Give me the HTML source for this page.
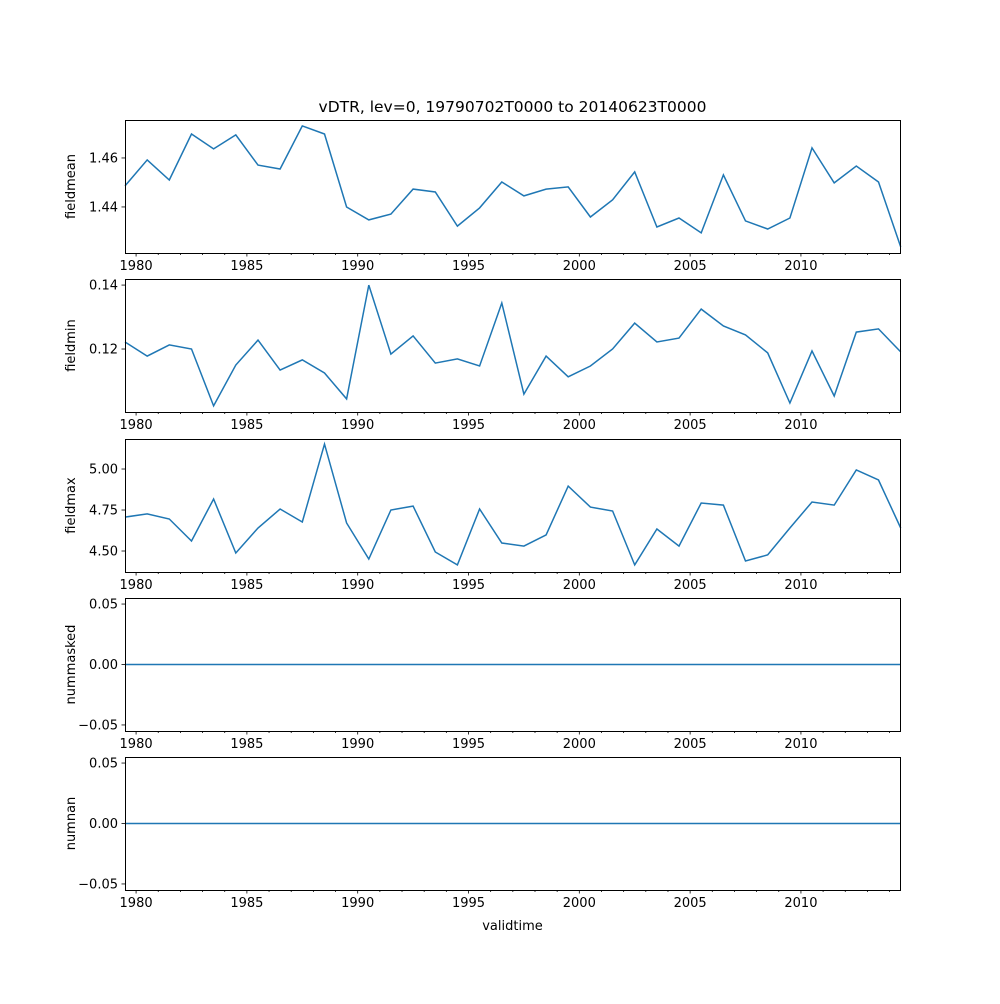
<!DOCTYPE html>
<html><head><meta charset="utf-8"><style>
body{margin:0;background:#fff;font-family:"DejaVu Sans","Liberation Sans",sans-serif}
svg text{font-family:"DejaVu Sans","Liberation Sans",sans-serif;font-size:13px;fill:#000}
</style></head><body>
<svg id="chart" width="1000" height="1000"></svg>
<script>
const years=[];for(let i=0;i<36;i++)years.push(1979.5+i);
const fieldmean=[1.4486,1.4592,1.4510,1.4698,1.4637,1.4694,1.4571,1.4555,1.4731,1.4698,1.4400,1.4347,1.4371,1.4473,1.4461,1.4322,1.4396,1.4502,1.4445,1.4473,1.4482,1.4359,1.4429,1.4543,1.4318,1.4355,1.4294,1.4531,1.4343,1.4310,1.4355,1.4641,1.4498,1.4567,1.4502,1.4237];
const fieldmin=[.1222,.1178,.1213,.12,.1022,.115,.1228,.1134,.1166,.1125,.1044,.14,.1184,.1241,.1156,.1169,.1147,.1344,.1059,.1178,.1113,.1147,.12,.1281,.1222,.1234,.1325,.1272,.1244,.1188,.1031,.1194,.1053,.1253,.1263,.1191];
const fieldmax=[4.707,4.726,4.695,4.561,4.817,4.488,4.640,4.756,4.677,5.152,4.671,4.451,4.750,4.774,4.494,4.415,4.756,4.549,4.530,4.598,4.896,4.768,4.744,4.415,4.634,4.530,4.793,4.780,4.439,4.476,4.640,4.799,4.780,4.994,4.933,4.640];
const nummasked=years.map(()=>0);
const numnan=years.map(()=>0);
const xTicks=[1980,1985,1990,1995,2000,2005,2010];
const NS="http://www.w3.org/2000/svg";
const svg=document.getElementById('chart');
const X0=125,X1=900,T0=1979.5,T1=2014.47;
const xs=v=>X0+(v-T0)/(T1-T0)*(X1-X0);
function mk(tag,attrs,parent){const e=document.createElementNS(NS,tag);for(const k in attrs)e.setAttribute(k,attrs[k]);(parent||svg).appendChild(e);return e;}
const panels=[
 {name:'fieldmean',data:fieldmean,top:120,bot:253,lo:1.4212,hi:1.4755,ticks:[1.44,1.46],fmt:v=>v.toFixed(2)},
 {name:'fieldmin',data:fieldmin,top:279,bot:412,lo:.1003,hi:.1419,ticks:[.12,.14],fmt:v=>v.toFixed(2)},
 {name:'fieldmax',data:fieldmax,top:439,bot:572,lo:4.372,hi:5.183,ticks:[4.5,4.75,5.0],fmt:v=>v.toFixed(2)},
 {name:'nummasked',data:nummasked,top:598,bot:731,lo:-.055,hi:.055,ticks:[-.05,0,.05],fmt:v=>v.toFixed(2).replace('-','−')},
 {name:'numnan',data:numnan,top:757,bot:890,lo:-.055,hi:.055,ticks:[-.05,0,.05],fmt:v=>v.toFixed(2).replace('-','−')}
];
panels.forEach(p=>{
 const g=mk('g',{});
 
 
 const ys=v=>p.bot-(v-p.lo)/(p.hi-p.lo)*(p.bot-p.top);
 const pts=p.data.map((v,i)=>xs(years[i]).toFixed(1)+','+ys(v).toFixed(1)).join(' ');
 const line=mk('polyline',{points:pts,fill:'none',stroke:'#1f77b4','stroke-width':1.5},g);
 
 
 const fr=mk('rect',{x:X0+0.5,y:p.top+0.5,width:X1-X0,height:p.bot-p.top,fill:'none',stroke:'#000','stroke-width':1,'shape-rendering':'crispEdges'},g);
 
 
 p.ticks.forEach(t=>{const y=ys(t);mk('line',{x1:X0-3.5,x2:X0,y1:y,y2:y,stroke:'#000','stroke-width':0.8},g);
  const tx=mk('text',{x:X0-7,y:y+4.5,'text-anchor':'end'},g);tx.textContent=p.fmt(t);
  
  });
 for(let yr=1980;yr<=2014;yr++){const x=xs(yr);const major=xTicks.includes(yr);
  mk('line',{x1:x,x2:x,y1:p.bot,y2:p.bot+(major?3.5:2),stroke:'#000','stroke-width':0.8},g);}
 xTicks.forEach(t=>{const tx=mk('text',{x:xs(t),y:p.bot+17,'text-anchor':'middle'},g);tx.textContent=t;
  
  });
 const yl=mk('text',{x:0,y:0,'text-anchor':'middle',transform:`translate(75,${(p.top+p.bot)/2}) rotate(-90)`},g);
 yl.textContent=p.name;
 
 
});
const title=mk('text',{x:512.5,y:112,'text-anchor':'middle',style:'font-size:15.5px'});
title.textContent='vDTR, lev=0, 19790702T0000 to 20140623T0000';


const xl=mk('text',{x:512.5,y:930,'text-anchor':'middle'});
xl.textContent='validtime';


</script>
</body></html>
